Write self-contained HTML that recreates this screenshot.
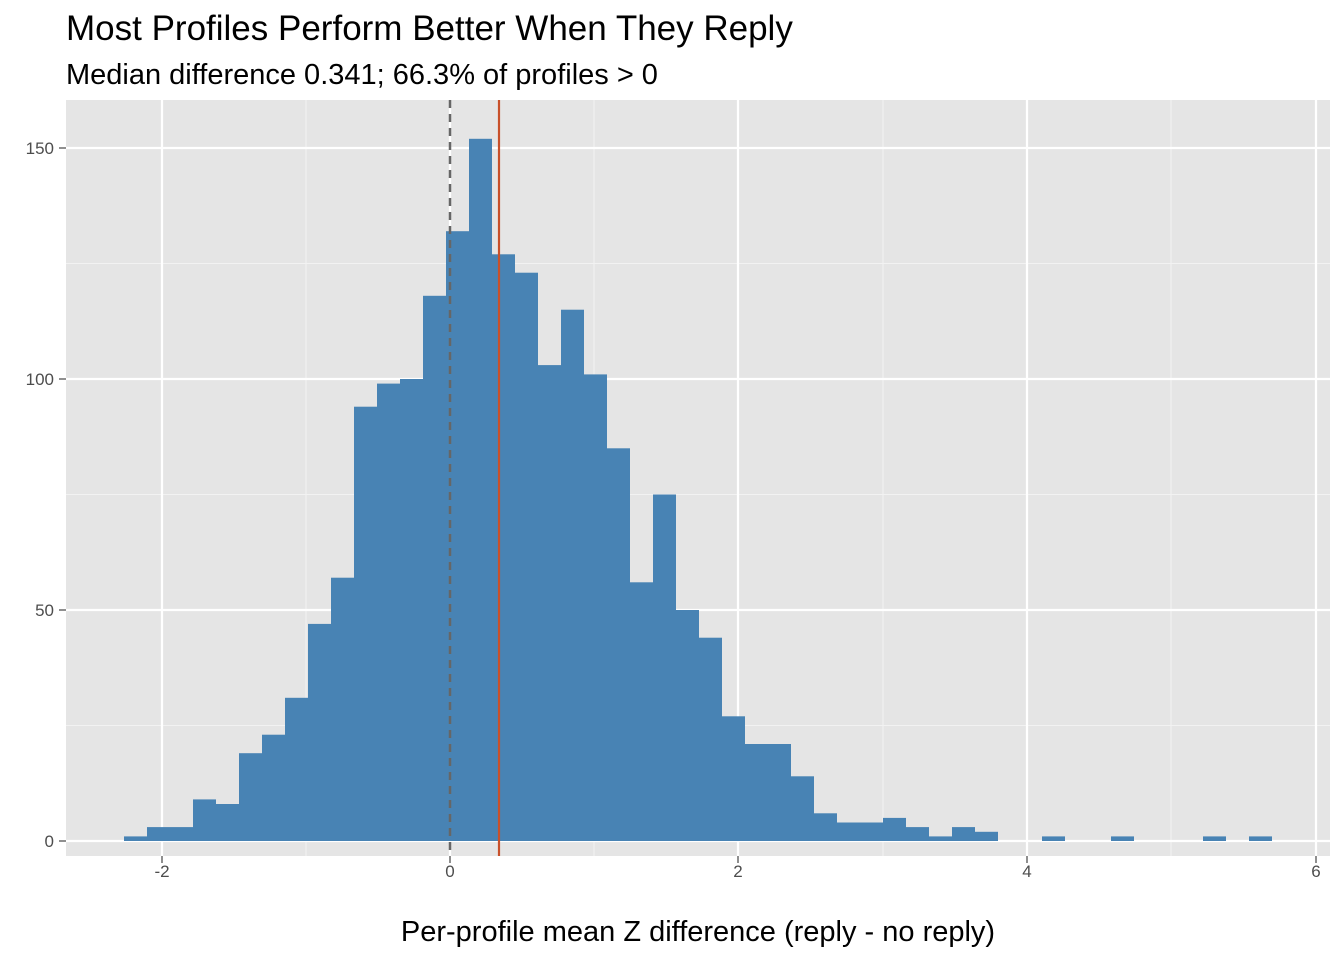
<!DOCTYPE html>
<html><head><style>body{margin:0;background:#fff}</style></head><body>
<svg width="1344" height="960" xmlns="http://www.w3.org/2000/svg" font-family="Liberation Sans, sans-serif">
<rect x="66" y="100" width="1264" height="756" fill="#e5e5e5"/>
<g stroke="#f2f2f2" stroke-width="1.1">
<line x1="66" x2="1330" y1="263.5" y2="263.5"/><line x1="66" x2="1330" y1="494.5" y2="494.5"/><line x1="66" x2="1330" y1="725.5" y2="725.5"/>
<line y1="100" y2="856" x1="306" x2="306"/><line y1="100" y2="856" x1="594" x2="594"/><line y1="100" y2="856" x1="883" x2="883"/><line y1="100" y2="856" x1="1171" x2="1171"/>
</g>
<g stroke="#fff" stroke-width="2.2">
<line x1="66" x2="1330" y1="148" y2="148"/><line x1="66" x2="1330" y1="379" y2="379"/><line x1="66" x2="1330" y1="610" y2="610"/><line x1="66" x2="1330" y1="841" y2="841"/>
<line y1="100" y2="856" x1="162" x2="162"/><line y1="100" y2="856" x1="450" x2="450"/><line y1="100" y2="856" x1="738" x2="738"/><line y1="100" y2="856" x1="1027" x2="1027"/><line y1="100" y2="856" x1="1316" x2="1316"/>
</g>
<g fill="#4883b4">
<rect x="124" y="836.4" width="23" height="4.6"/>
<rect x="147" y="827.1" width="23" height="13.9"/>
<rect x="170" y="827.1" width="23" height="13.9"/>
<rect x="193" y="799.4" width="23" height="41.6"/>
<rect x="216" y="804" width="23" height="37"/>
<rect x="239" y="753.2" width="23" height="87.8"/>
<rect x="262" y="734.7" width="23" height="106.3"/>
<rect x="285" y="697.8" width="23" height="143.2"/>
<rect x="308" y="623.9" width="23" height="217.1"/>
<rect x="331" y="577.7" width="23" height="263.3"/>
<rect x="354" y="406.7" width="23" height="434.3"/>
<rect x="377" y="383.6" width="23" height="457.4"/>
<rect x="400" y="379" width="23" height="462"/>
<rect x="423" y="295.8" width="23" height="545.2"/>
<rect x="446" y="231.2" width="23" height="609.8"/>
<rect x="469" y="138.8" width="23" height="702.2"/>
<rect x="492" y="254.3" width="23" height="586.7"/>
<rect x="515" y="272.7" width="23" height="568.3"/>
<rect x="538" y="365.1" width="23" height="475.9"/>
<rect x="561" y="309.7" width="23" height="531.3"/>
<rect x="584" y="374.4" width="23" height="466.6"/>
<rect x="607" y="448.3" width="23" height="392.7"/>
<rect x="630" y="582.3" width="23" height="258.7"/>
<rect x="653" y="494.5" width="23" height="346.5"/>
<rect x="676" y="610" width="23" height="231"/>
<rect x="699" y="637.7" width="23" height="203.3"/>
<rect x="722" y="716.3" width="23" height="124.7"/>
<rect x="745" y="744" width="23" height="97"/>
<rect x="768" y="744" width="23" height="97"/>
<rect x="791" y="776.3" width="23" height="64.7"/>
<rect x="814" y="813.3" width="23" height="27.7"/>
<rect x="837" y="822.5" width="23" height="18.5"/>
<rect x="860" y="822.5" width="23" height="18.5"/>
<rect x="883" y="817.9" width="23" height="23.1"/>
<rect x="906" y="827.1" width="23" height="13.9"/>
<rect x="929" y="836.4" width="23" height="4.6"/>
<rect x="952" y="827.1" width="23" height="13.9"/>
<rect x="975" y="831.8" width="23" height="9.2"/>
<rect x="1042" y="836.4" width="23" height="4.6"/>
<rect x="1111" y="836.4" width="23" height="4.6"/>
<rect x="1203" y="836.4" width="23" height="4.6"/>
<rect x="1249" y="836.4" width="23" height="4.6"/>
</g>
<line x1="450" x2="450" y1="100" y2="856" stroke="#666" stroke-width="2.5" stroke-dasharray="8,6"/>
<line x1="499" x2="499" y1="100" y2="856" stroke="#c8502a" stroke-width="2.2"/>
<g font-size="17" fill="#4d4d4d" text-anchor="end">
<text x="54" y="154">150</text><text x="54" y="385">100</text><text x="54" y="616">50</text><text x="54" y="847">0</text>
</g>
<g stroke="#333" stroke-width="1.1">
<line x1="59" x2="66" y1="148" y2="148"/><line x1="59" x2="66" y1="379" y2="379"/><line x1="59" x2="66" y1="610" y2="610"/><line x1="59" x2="66" y1="841" y2="841"/>
<line y1="856" y2="863" x1="162" x2="162"/><line y1="856" y2="863" x1="450" x2="450"/><line y1="856" y2="863" x1="738" x2="738"/><line y1="856" y2="863" x1="1027" x2="1027"/><line y1="856" y2="863" x1="1316" x2="1316"/>
</g>
<g font-size="17" fill="#4d4d4d" text-anchor="middle">
<text x="162" y="877">-2</text><text x="450" y="877">0</text><text x="738" y="877">2</text><text x="1027" y="877">4</text><text x="1316" y="877">6</text>
</g>
<text x="698" y="941" font-size="29" text-anchor="middle">Per-profile mean Z difference (reply - no reply)</text>
<text x="66" y="40" font-size="35">Most Profiles Perform Better When They Reply</text>
<text x="66" y="84" font-size="29">Median difference 0.341; 66.3% of profiles &gt; 0</text>
</svg>
</body></html>
